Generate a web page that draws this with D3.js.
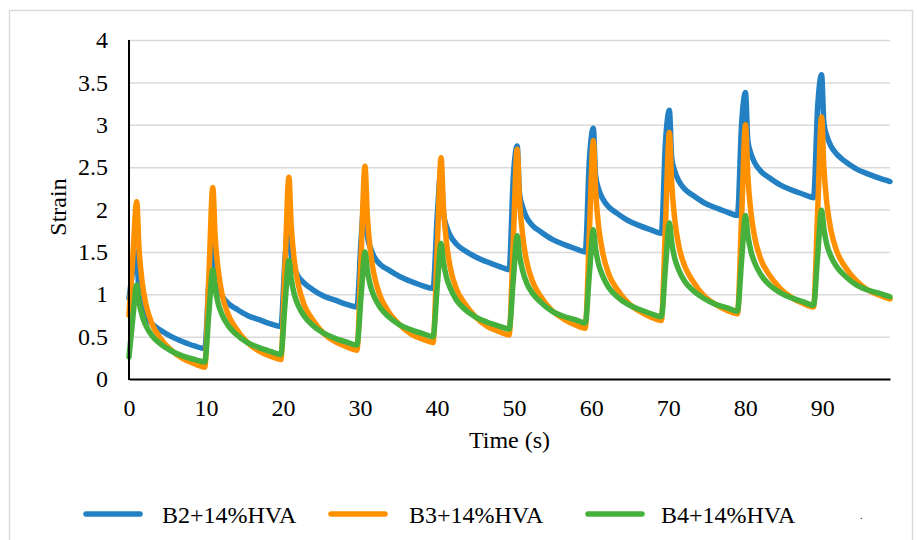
<!DOCTYPE html>
<html>
<head>
<meta charset="utf-8">
<script src="https://cdn.jsdelivr.net/npm/d3@7"></script>
<style>
  html, body { margin: 0; padding: 0; background: #ffffff; }
  svg { display: block; }
  text { font-family: "Liberation Serif", "DejaVu Serif", serif; fill: #000; }
</style>
</head>
<body>
<svg id="chart" width="917" height="540"></svg>
<script>
// ---- data ----
const time = [
  0, 0.5, 1.0, 1.3, 1.7, 2.2, 3.0, 4.0, 5.5, 7.0, 8.5,
  9.83, 10.38, 10.88, 11.18, 11.58, 12.08, 12.88, 13.88, 15.38, 16.88, 18.38,
  19.71, 20.26, 20.76, 21.06, 21.46, 21.96, 22.76, 23.76, 25.26, 26.76, 28.26,
  29.59, 30.14, 30.64, 30.94, 31.34, 31.84, 32.64, 33.64, 35.14, 36.64, 38.14,
  39.47, 40.02, 40.52, 40.82, 41.22, 41.72, 42.52, 43.52, 45.02, 46.52, 48.02,
  49.35, 49.9, 50.4, 50.7, 51.1, 51.6, 52.4, 53.4, 54.9, 56.4, 57.9,
  59.23, 59.78, 60.28, 60.58, 60.98, 61.48, 62.28, 63.28, 64.78, 66.28, 67.78,
  69.11, 69.66, 70.16, 70.46, 70.86, 71.36, 72.16, 73.16, 74.66, 76.16, 77.66,
  78.99, 79.54, 80.04, 80.34, 80.74, 81.24, 82.04, 83.04, 84.54, 86.04, 87.54,
  88.87, 89.42, 89.92, 90.22, 90.62, 91.12, 91.92, 92.92, 94.42, 95.92, 97.42, 98.8
];

const strainB2 = [
  0.95, 1.28, 1.50, 0.99, 0.84, 0.74, 0.65, 0.58, 0.50, 0.44, 0.39,
  0.36, 1.16, 1.70, 1.21, 1.07, 0.98, 0.89, 0.83, 0.75, 0.70, 0.65,
  0.62, 1.42, 1.95, 1.46, 1.31, 1.21, 1.13, 1.06, 0.98, 0.93, 0.88,
  0.85, 1.66, 2.20, 1.69, 1.55, 1.44, 1.35, 1.29, 1.21, 1.15, 1.10,
  1.07, 1.93, 2.48, 1.96, 1.80, 1.69, 1.59, 1.52, 1.44, 1.38, 1.33,
  1.29, 2.39, 2.75, 2.19, 2.03, 1.91, 1.81, 1.74, 1.65, 1.59, 1.54,
  1.50, 2.60, 2.96, 2.40, 2.24, 2.13, 2.03, 1.96, 1.87, 1.81, 1.76,
  1.72, 2.81, 3.17, 2.61, 2.45, 2.34, 2.24, 2.17, 2.08, 2.02, 1.97,
  1.93, 3.02, 3.38, 2.82, 2.66, 2.55, 2.45, 2.38, 2.29, 2.23, 2.18,
  2.14, 3.23, 3.59, 3.02, 2.86, 2.75, 2.65, 2.57, 2.48, 2.42, 2.37, 2.33
];

const strainB3 = [
  0.75, 1.45, 2.09, 1.54, 1.15, 0.88, 0.65, 0.49, 0.34, 0.24, 0.18,
  0.14, 1.24, 2.26, 1.69, 1.29, 1.00, 0.76, 0.60, 0.43, 0.33, 0.27,
  0.23, 1.35, 2.38, 1.81, 1.40, 1.12, 0.87, 0.71, 0.54, 0.44, 0.38,
  0.34, 1.47, 2.51, 1.93, 1.51, 1.22, 0.97, 0.80, 0.64, 0.53, 0.47,
  0.43, 1.56, 2.61, 2.03, 1.61, 1.31, 1.06, 0.90, 0.73, 0.62, 0.56,
  0.52, 1.66, 2.71, 2.12, 1.70, 1.40, 1.15, 0.98, 0.81, 0.71, 0.64,
  0.60, 1.75, 2.81, 2.22, 1.79, 1.50, 1.24, 1.07, 0.90, 0.80, 0.73,
  0.69, 1.84, 2.91, 2.31, 1.88, 1.58, 1.33, 1.16, 0.98, 0.88, 0.81,
  0.77, 1.93, 3.00, 2.40, 1.97, 1.67, 1.41, 1.24, 1.07, 0.96, 0.89,
  0.85, 2.01, 3.09, 2.49, 2.06, 1.76, 1.50, 1.33, 1.16, 1.05, 0.99, 0.945
];

const strainB4 = [
  0.26, 0.72, 1.11, 0.91, 0.75, 0.63, 0.51, 0.42, 0.33, 0.27, 0.23,
  0.20, 0.79, 1.29, 1.07, 0.89, 0.76, 0.63, 0.53, 0.43, 0.37, 0.325,
  0.29, 0.89, 1.40, 1.18, 1.00, 0.87, 0.74, 0.64, 0.54, 0.48, 0.435,
  0.40, 0.99, 1.50, 1.28, 1.10, 0.97, 0.84, 0.74, 0.64, 0.58, 0.535,
  0.50, 1.09, 1.60, 1.38, 1.20, 1.07, 0.93, 0.83, 0.73, 0.67, 0.625,
  0.59, 1.18, 1.69, 1.46, 1.28, 1.14, 1.01, 0.91, 0.80, 0.74, 0.70,
  0.66, 1.25, 1.76, 1.53, 1.35, 1.22, 1.08, 0.98, 0.88, 0.82, 0.77,
  0.735, 1.33, 1.84, 1.61, 1.42, 1.29, 1.15, 1.05, 0.95, 0.88, 0.84,
  0.80, 1.41, 1.93, 1.70, 1.51, 1.37, 1.23, 1.12, 1.02, 0.955, 0.91,
  0.87, 1.47, 1.99, 1.77, 1.58, 1.45, 1.32, 1.22, 1.11, 1.05, 1.01, 0.97
];

const seriesNames = ["B2+14%HVA", "B3+14%HVA", "B4+14%HVA"];
const seriesColors = ["#2381c3", "#ff9100", "#45b03b"];
const xTicks = [0, 10, 20, 30, 40, 50, 60, 70, 80, 90];
const yTicks = [0, 0.5, 1, 1.5, 2, 2.5, 3, 3.5, 4];
const yTickLabels = ["0", "0.5", "1", "1.5", "2", "2.5", "3", "3.5", "4"];
const xTitle = "Time (s)";
const yTitle = "Strain";

// ---- drawing ----
const FONT = '"Liberation Serif", "DejaVu Serif", serif';
const svg = d3.select("#chart");
const plot = { left: 129, right: 890, top: 40, bottom: 379 };

// outer chart border
svg.append("rect")
  .attr("x", 9.5).attr("y", 10.5)
  .attr("width", 903).attr("height", 545)
  .attr("fill", "none").attr("stroke", "#d9d9d9").attr("stroke-width", 1.5);

const x = d3.scaleLinear().domain([0, 98.8]).range([plot.left, plot.right]);
const y = d3.scaleLinear().domain([0, 4]).range([plot.bottom, plot.top]);

// gridlines
const gGrid = svg.append("g")
  .attr("transform", `translate(${plot.left},0)`)
  .call(d3.axisLeft(y).tickValues(yTicks.slice(1)).tickSize(-(plot.right - plot.left)).tickFormat(""));
gGrid.select(".domain").remove();
gGrid.selectAll(".tick line").attr("stroke", "#d9d9d9").attr("stroke-width", 1.5);

// y axis labels
const gY = svg.append("g")
  .attr("transform", `translate(${plot.left},0)`)
  .call(d3.axisLeft(y).tickValues(yTicks).tickSize(0).tickPadding(21)
    .tickFormat((d, i) => yTickLabels[i]));
gY.select(".domain").remove();
gY.selectAll(".tick text")
  .style("font-family", FONT)
  .style("font-size", "24px").attr("fill", "#000");

// series lines
const seriesValues = [strainB2, strainB3, strainB4];
const line = d3.line()
  .x(d => x(d[0]))
  .y(d => y(d[1]))
  .curve(d3.curveMonotoneX);

seriesValues.forEach((vals, i) => {
  const pts = time.map((t, j) => [t, vals[j]]);
  svg.append("path")
    .datum(pts)
    .attr("d", line)
    .attr("fill", "none")
    .attr("stroke", seriesColors[i])
    .attr("stroke-width", 5.5)
    .attr("stroke-linejoin", "round")
    .attr("stroke-linecap", "round");
});

// y axis line
svg.append("line")
  .attr("x1", plot.left).attr("x2", plot.left)
  .attr("y1", plot.top).attr("y2", plot.bottom + 1)
  .attr("stroke", "#000").attr("stroke-width", 2);

// x axis
const gX = svg.append("g")
  .attr("transform", `translate(0,${plot.bottom})`)
  .call(d3.axisBottom(x).tickValues(xTicks).tickSize(0).tickPadding(20).tickFormat(d3.format("d")));
gX.select(".domain").attr("stroke", "#000").attr("stroke-width", 2.2);
gX.selectAll(".tick text")
  .style("font-family", FONT)
  .style("font-size", "24px").attr("fill", "#000");

// axis titles
svg.append("text")
  .attr("x", (plot.left + plot.right) / 2).attr("y", 448)
  .attr("text-anchor", "middle")
  .style("font-family", FONT)
  .style("font-size", "24px")
  .text(xTitle);

svg.append("text")
  .attr("transform", `translate(66,207) rotate(-90)`)
  .attr("text-anchor", "middle")
  .style("font-family", FONT)
  .style("font-size", "24px")
  .text(yTitle);

// legend
const legendItems = [
  { lx: 86, tx: 162 },
  { lx: 331, tx: 409 },
  { lx: 588, tx: 661 }
];
seriesNames.forEach((name, i) => {
  const g = svg.append("g");
  g.append("line")
    .attr("x1", legendItems[i].lx).attr("x2", legendItems[i].lx + 54)
    .attr("y1", 514).attr("y2", 514)
    .attr("stroke", seriesColors[i]).attr("stroke-width", 5.5)
    .attr("stroke-linecap", "round");
  g.append("text")
    .attr("x", legendItems[i].tx).attr("y", 523)
    .style("font-family", FONT)
    .style("font-size", "24px")
    .text(name);
});
// small stray mark in the legend area
svg.append("text")
  .attr("x", 860).attr("y", 519)
  .style("font-size", "10px")
  .text(".");
</script>
</body>
</html>
